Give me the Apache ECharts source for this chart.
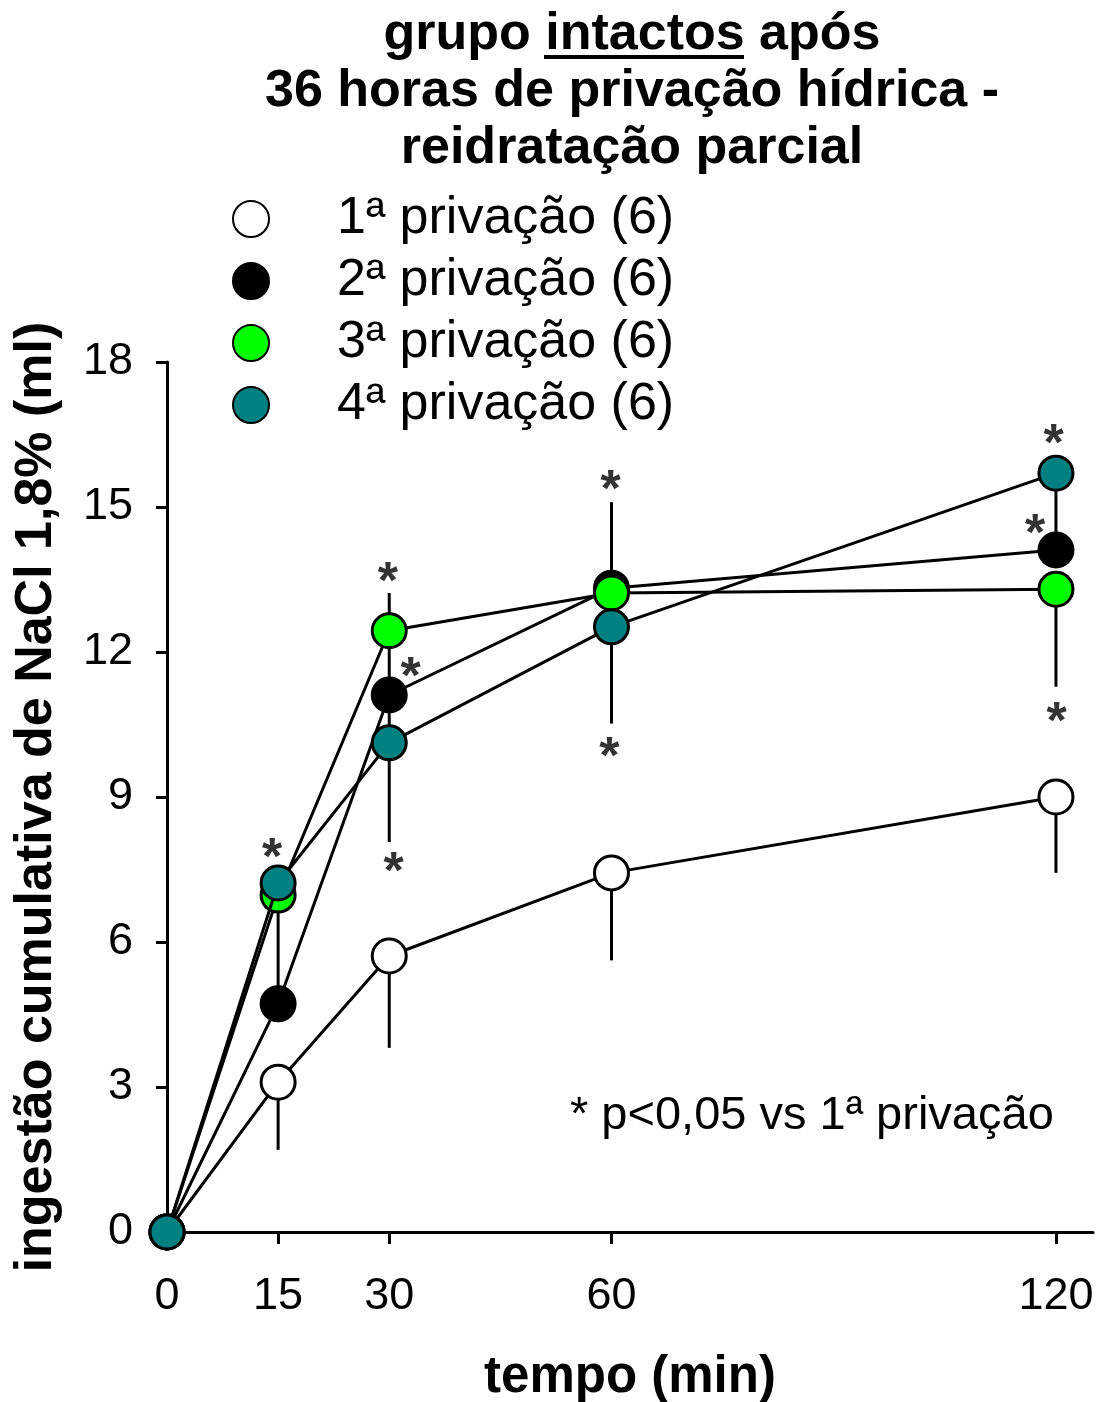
<!DOCTYPE html>
<html>
<head>
<meta charset="utf-8">
<script src="https://cdn.jsdelivr.net/npm/echarts@6/dist/echarts.min.js"></script>
<style>html,body{margin:0;padding:0;background:#fff}#c{width:1103px;height:1402px}</style>
</head>
<body>
<div id="c"></div>
<script>
// ---- data ----
const times = [0, 15, 30, 60, 120];
const xTicks = [0, 15, 30, 60, 120];
const seriesNames = ['1ª privação (6)', '2ª privação (6)', '3ª privação (6)', '4ª privação (6)'];
const priv1 = [0, 3.10, 5.71, 7.43, 9.00];
const priv2 = [0, 4.72, 11.11, 13.32, 14.11];
const priv3 = [0, 6.97, 12.44, 13.22, 13.30];
const priv4 = [0, 7.22, 10.12, 12.52, 15.70];
// error bar extents (only the visible halves)
const priv1ErrUp = [0, 0, 0, 0, 0];
const priv1ErrDown = [0, 1.40, 1.90, 1.81, 1.57];
const priv2ErrUp = [0, 2.30, 1.30, 1.78, 1.60];
const priv2ErrDown = [0, 0, 1.00, 0, 0];
const priv3ErrUp = [0, 0, 0.78, 0, 0];
const priv3ErrDown = [0, 0, 0, 0, 2.02];
const priv4ErrUp = [0, 0, 0, 0, 0];
const priv4ErrDown = [0, 0, 2.05, 2.00, 0];
// significance asterisks [time, value]
const stars = [[14.2, 8.0], [29.8, 13.7], [32.9, 11.73], [30.6, 7.7], [59.9, 15.6], [59.7, 10.08], [119.7, 16.55], [117.2, 14.69], [120.1, 10.8]];

const FONT = '"Liberation Sans", Arial, sans-serif';
const fills = ['#ffffff', '#000000', '#00ff00', '#008080'];
const means = [priv1, priv2, priv3, priv4];
const ups = [priv1ErrUp, priv2ErrUp, priv3ErrUp, priv4ErrUp];
const downs = [priv1ErrDown, priv2ErrDown, priv3ErrDown, priv4ErrDown];

const errData = [];
means.forEach((m, s) => {
  times.forEach((t, i) => {
    if (ups[s][i] > 0) errData.push([t, m[i], m[i] + ups[s][i]]);
    if (downs[s][i] > 0) errData.push([t, m[i], m[i] - downs[s][i]]);
  });
});

const chart = echarts.init(document.getElementById('c'), null, {renderer: 'canvas'});

const series = [{
  type: 'custom',
  z: 1,
  silent: true,
  data: errData,
  renderItem: function (params, api) {
    const p1 = api.coord([api.value(0), api.value(1)]);
    const p2 = api.coord([api.value(0), api.value(2)]);
    return {type: 'line', shape: {x1: p1[0], y1: p1[1], x2: p2[0], y2: p2[1]}, style: {stroke: '#000', lineWidth: 3}};
  }
}];
means.forEach((m, s) => {
  series.push({
    type: 'line',
    name: seriesNames[s],
    z: 2 + s,
    data: times.map((t, i) => [t, m[i]]),
    symbol: 'circle',
    symbolSize: 34,
    showAllSymbol: true,
    lineStyle: {color: '#000', width: 3},
    itemStyle: {color: fills[s], borderColor: '#000', borderWidth: 3},
    emphasis: {disabled: true},
    animation: false
  });
});
series.push({
  type: 'scatter',
  z: 10,
  silent: true,
  data: stars,
  symbolSize: 1,
  itemStyle: {color: 'rgba(0,0,0,0)'},
  label: {show: true, position: 'inside', formatter: '*', fontSize: 52, fontWeight: 'bold', fontFamily: FONT, color: '#000', offset: [0, 14]}
});

chart.setOption({
  animation: false,
  backgroundColor: '#fff',
  title: {
    text: 'grupo intactos após\n36 horas de privação hídrica -\nreidratação parcial',
    left: 632, top: 6, textAlign: 'center', padding: 0,
    textStyle: {fontFamily: FONT, fontWeight: 'bold', fontSize: 52, lineHeight: 57, color: '#000'}
  },
  legend: {
    orient: 'vertical', left: 232, top: 193, padding: 0,
    icon: 'circle', itemWidth: 36, itemHeight: 36, itemGap: 10,
    data: seriesNames,
    selectedMode: false,
    textStyle: {fontFamily: FONT, fontSize: 52, color: '#000', padding: [0, 0, 0, 63]}
  },
  grid: {left: 167, right: 10, top: 362, bottom: 170, containLabel: false, outerBoundsMode: 'none'},
  xAxis: {
    type: 'value', min: 0, max: 125,
    name: 'tempo (min)', nameLocation: 'middle', nameGap: 120,
    nameTextStyle: {fontFamily: FONT, fontWeight: 'bold', fontSize: 51, color: '#000'},
    axisLine: {show: true, lineStyle: {color: '#000', width: 3}},
    axisTick: {show: true, length: 12, lineStyle: {color: '#000', width: 3}, customValues: xTicks},
    axisLabel: {fontFamily: FONT, fontSize: 45, color: '#000', margin: 42, customValues: xTicks},
    splitLine: {show: false}
  },
  yAxis: {
    type: 'value', min: 0, max: 18, interval: 3,
    name: 'ingestão cumulativa de NaCl 1,8% (ml)', nameLocation: 'middle', nameGap: 104, nameRotate: 90,
    nameTextStyle: {fontFamily: FONT, fontWeight: 'bold', fontSize: 52, color: '#000'},
    axisLine: {show: true, lineStyle: {color: '#000', width: 3}},
    axisTick: {show: true, length: 11, lineStyle: {color: '#000', width: 3}},
    axisLabel: {fontFamily: FONT, fontSize: 45, color: '#000', margin: 34},
    splitLine: {show: false}
  },
  graphic: [
    {type: 'rect', left: 544, top: 55, shape: {width: 200, height: 4}, style: {fill: '#000'}},
    {type: 'text', left: 570, top: 1093, style: {text: '* p<0,05 vs 1ª privação', fontFamily: FONT, fontSize: 47, fill: '#000'}}
  ],
  series: series
});
</script>
</body>
</html>
